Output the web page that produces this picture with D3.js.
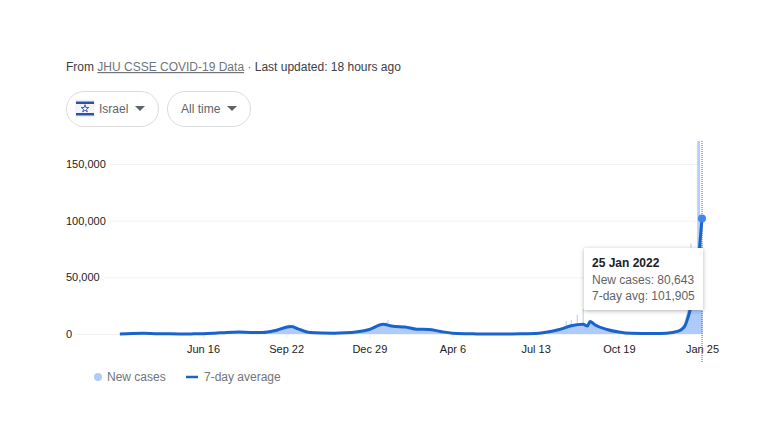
<!DOCTYPE html>
<html>
<head>
<meta charset="utf-8">
<script src="https://cdn.jsdelivr.net/npm/d3@7"></script>
<style>
  html, body { margin: 0; padding: 0; background: #fff; overflow: hidden; }
  svg { display: block; font-family: "Liberation Sans", Arial, sans-serif; }
  .axis text { fill: #222; font-size: 11px; }
  .pill { fill: #fff; stroke: #dadce0; }
</style>
</head>
<body>
<svg id="chart" width="773" height="442"></svg>
<script>
const parseDay = d3.timeParse('%Y-%m-%d');

// 7-day average and daily new cases at the same dates
const dates = [
  '2020-03-10', '2020-03-24', '2020-04-07', '2020-04-21', '2020-05-05', '2020-05-19', '2020-06-02', '2020-06-16',
  '2020-06-30', '2020-07-14', '2020-07-28', '2020-08-11', '2020-08-25', '2020-09-08', '2020-09-22', '2020-09-28',
  '2020-10-06', '2020-10-20', '2020-11-03', '2020-11-17', '2020-12-01', '2020-12-15', '2020-12-29', '2021-01-14',
  '2021-01-26', '2021-02-09', '2021-02-23', '2021-03-09', '2021-03-23', '2021-04-06', '2021-04-20', '2021-05-04',
  '2021-05-18', '2021-06-01', '2021-06-15', '2021-06-29', '2021-07-13', '2021-07-27', '2021-08-10', '2021-08-24',
  '2021-09-07', '2021-09-12', '2021-09-15', '2021-09-21', '2021-10-05', '2021-10-19', '2021-11-02', '2021-11-16',
  '2021-11-30', '2021-12-14', '2021-12-28', '2022-01-04', '2022-01-11', '2022-01-18', '2022-01-22', '2022-01-25'
];
const avgValues = [
  100, 500, 600, 300, 150, 50, 100, 200,
  700, 1400, 1700, 1400, 1300, 2800, 6000, 6700,
  4500, 1300, 800, 700, 1000, 2000, 4000, 8500,
  6800, 6200, 4200, 4000, 2200, 700, 200, 100,
  50, 20, 20, 250, 500, 1700, 4000, 7200,
  8500, 7000, 11000, 8000, 4000, 1700, 600, 500,
  500, 700, 2500, 6000, 21000, 45000, 75000, 101905
];
const caseValues = [
  0, 550, 650, 300, 150, 50, 100, 200,
  750, 1500, 1900, 1500, 1500, 3300, 7200, 8000,
  5000, 1400, 800, 700, 1100, 2300, 4800, 9800,
  8000, 7000, 4800, 4600, 2500, 800, 200, 100,
  50, 20, 20, 250, 600, 2100, 5000, 8800,
  10000, 8500, 11500, 9000, 4500, 1800, 600, 500,
  500, 700, 3000, 9000, 30000, 60000, 70000, 80643
];

// single days that stick out of the new cases area
const spikeDates = [
  '2020-09-25', '2020-10-01', '2021-01-18', '2021-01-20', '2021-08-18', '2021-08-24', '2021-08-31', '2021-09-07',
  '2022-01-12', '2022-01-20', '2022-01-21', '2022-01-22', '2022-01-25'
];
const spikeValues = [
  8500, 8800, 10500, 12500, 11500, 12500, 17000, 22000,
  80000, 185000, 185000, 185000, 80643
];

const yTicks = [0, 50000, 100000, 150000];
const xTickDates = ['2020-06-16', '2020-09-22', '2020-12-29', '2021-04-06', '2021-07-13', '2021-10-19', '2022-01-25'];

const tooltipTitle = '25 Jan 2022';
const tooltipLines = ['New cases: 80,643', '7-day avg: 101,905'];

const days = dates.map(parseDay);
const $svg = d3.select('#chart');

const x = d3.scaleTime()
  .domain([parseDay('2020-06-16'), parseDay('2022-01-25')])
  .range([203, 702]);

const y = d3.scaleLinear()
  .domain([0, 150000])
  .range([334, 164]);

// clip marks at the top of the plot
$svg.append('clipPath').attr('id', 'plot')
  .append('rect').attr('x', 60).attr('y', 141).attr('width', 660).attr('height', 230);

// header
const $head = $svg.append('text').attr('x', 66).attr('y', 71)
  .style('font-size', '12px').attr('fill', '#3c4043');
$head.append('tspan').text('From ');
$head.append('tspan').attr('fill', '#70757a').attr('text-decoration', 'underline').text('JHU CSSE COVID-19 Data');
$head.append('tspan').attr('fill', '#70757a').text(' · ');
$head.append('tspan').text('Last updated: 18 hours ago');

// dropdowns
function pill(left, width, label, textX, arrowX) {
  $svg.append('rect').attr('class', 'pill')
    .attr('x', left + 0.5).attr('y', 91.5).attr('width', width).attr('height', 35).attr('rx', 17.5);
  $svg.append('text').attr('x', textX).attr('y', 113)
    .style('font-size', '12px').attr('fill', '#5f6368').text(label);
  $svg.append('path')
    .attr('d', d3.line()([[arrowX, 106], [arrowX + 10, 106], [arrowX + 5, 111]]) + 'Z')
    .attr('fill', '#5f6368');
}
pill(66, 92, 'Israel', 99, 135);
pill(167, 83, 'All time', 181, 227);

// flag
const $flag = $svg.append('g').attr('transform', 'translate(76,100)');
$flag.append('rect').attr('width', 18).attr('height', 17).attr('fill', '#f4f6fb').attr('stroke', '#dfe3ee').attr('stroke-width', 0.5);
$flag.append('rect').attr('y', 1.5).attr('width', 18).attr('height', 2.5).attr('fill', '#2b50b0');
$flag.append('rect').attr('y', 13).attr('width', 18).attr('height', 2.5).attr('fill', '#2b50b0');
$flag.append('path').attr('d', d3.symbol(d3.symbolStar, 18)()).attr('transform', 'translate(9,8.7)')
  .attr('fill', 'none').attr('stroke', '#2b50b0').attr('stroke-width', 0.9);

// y axis, labels sit at the left and the grid starts after them
const $yAxis = $svg.append('g').attr('class', 'axis y')
  .attr('transform', 'translate(66,0)')
  .call(d3.axisRight(y).tickValues(yTicks).tickFormat(d3.format(',')).tickSize(0).tickPadding(0))
  .call(g => g.select('.domain').remove());

$yAxis.selectAll('.tick').each(function () {
  const len = d3.select(this).select('text').node().getComputedTextLength();
  d3.select(this).select('line')
    .attr('x1', len + 4).attr('x2', 631)
    .attr('stroke', '#f1f3f4');
});

// x axis
$svg.append('g').attr('class', 'axis x')
  .attr('transform', 'translate(0,334)')
  .call(d3.axisBottom(x).tickValues(xTickDates.map(parseDay)).tickFormat(d3.timeFormat('%b %-d')).tickSize(4).tickPadding(7))
  .call(g => g.select('.domain').remove())
  .call(g => g.selectAll('.tick line').attr('stroke', '#e8eaed'));

const $marks = $svg.append('g').attr('clip-path', 'url(#plot)');

// new cases
$marks.append('path')
  .datum(caseValues)
  .attr('fill', '#aecbfa')
  .attr('d', d3.area().x((d, i) => x(days[i])).y0(y(0)).y1(d => y(d)));

$marks.selectAll('.spike')
  .data(spikeValues)
  .join('rect')
  .attr('class', 'spike')
  .attr('x', (d, i) => x(parseDay(spikeDates[i])) - 0.5)
  .attr('width', 1)
  .attr('y', d => y(d))
  .attr('height', d => y(0) - y(d))
  .attr('fill', '#aecbfa');

// 7-day average
$marks.append('path')
  .datum(avgValues)
  .attr('fill', 'none')
  .attr('stroke', '#1a63cc')
  .attr('stroke-width', 3)
  .attr('stroke-linejoin', 'round')
  .attr('d', d3.line().x((d, i) => x(days[i])).y(d => y(d)).curve(d3.curveMonotoneX));

// hover line and point
const lastDay = days[days.length - 1];
const lastAvg = avgValues[avgValues.length - 1];

$svg.append('line')
  .attr('x1', x(lastDay)).attr('x2', x(lastDay))
  .attr('y1', 141).attr('y2', 362)
  .attr('stroke', '#5f6368')
  .attr('stroke-dasharray', '1,1');

$svg.append('circle')
  .attr('cx', x(lastDay)).attr('cy', y(lastAvg)).attr('r', 4)
  .attr('fill', '#4285f4');

// tooltip
const $tip = $svg.append('g').attr('transform', 'translate(584,248)');
$tip.append('rect')
  .attr('width', 119).attr('height', 62)
  .attr('fill', '#fff')
  .style('filter', 'drop-shadow(0 1px 2px rgba(60,64,67,0.4))');
$tip.append('text').attr('x', 8).attr('y', 19)
  .style('font-size', '12px').style('font-weight', 'bold').attr('fill', '#202124')
  .text(tooltipTitle);
$tip.selectAll('.line')
  .data(tooltipLines)
  .join('text')
  .attr('class', 'line')
  .attr('x', 8)
  .attr('y', (d, i) => 36 + i * 15.5)
  .style('font-size', '12px')
  .attr('fill', '#5f6368')
  .text(d => d);

// legend
$svg.append('circle').attr('cx', 98).attr('cy', 377).attr('r', 4).attr('fill', '#aecbfa');
$svg.append('text').attr('x', 107).attr('y', 381).style('font-size', '12px').attr('fill', '#70757a').text('New cases');
$svg.append('line').attr('x1', 186).attr('x2', 198).attr('y1', 377).attr('y2', 377)
  .attr('stroke', '#1a63cc').attr('stroke-width', 2.5);
$svg.append('text').attr('x', 204).attr('y', 381).style('font-size', '12px').attr('fill', '#70757a').text('7-day average');
</script>
</body>
</html>
